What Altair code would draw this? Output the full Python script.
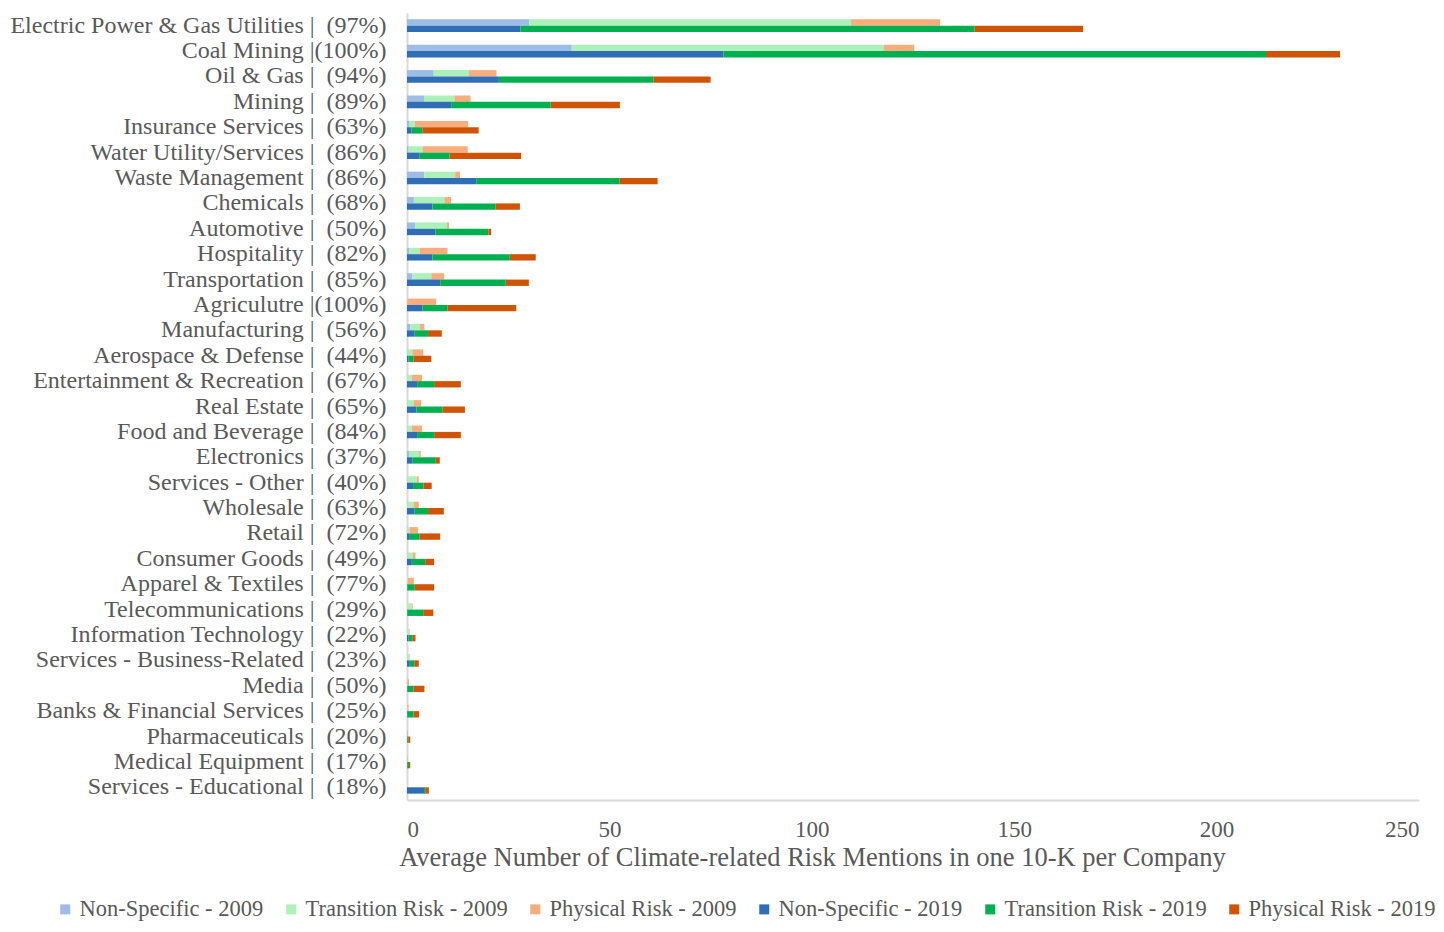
import altair as alt
import pandas as pd

categories = [
    "Electric Power & Gas Utilities", "Coal Mining", "Oil & Gas", "Mining",
    "Insurance Services", "Water Utility/Services", "Waste Management", "Chemicals",
    "Automotive", "Hospitality", "Transportation", "Agriculutre", "Manufacturing",
    "Aerospace & Defense", "Entertainment & Recreation", "Real Estate",
    "Food and Beverage", "Electronics", "Services - Other", "Wholesale", "Retail",
    "Consumer Goods", "Apparel & Textiles", "Telecommunications",
    "Information Technology", "Services - Business-Related", "Media",
    "Banks & Financial Services", "Pharmaceuticals", "Medical Equipment",
    "Services - Educational",
]
pcts = [97, 100, 94, 89, 63, 86, 86, 68, 50, 82, 85, 100, 56, 44, 67, 65, 84, 37,
        40, 63, 72, 49, 77, 29, 22, 23, 50, 25, 20, 17, 18]

ns_2009 = [30.2, 40.7, 6.6, 4.2, 0.5, 0.4, 4.3, 1.7, 2.0, 0.6, 1.3, 0.0, 0.8, 0.1, 0.1, 0.1,
           0.1, 0.5, 0.1, 0.1, 0.1, 0.1, 0.0, 0.0, 0.0, 0.1, 0.0, 0.0, 0.0, 0.0, 0.0]
tr_2009 = [79.5, 77.0, 8.7, 7.5, 1.4, 3.4, 7.6, 7.5, 7.8, 2.5, 4.7, 0.1, 2.4, 1.2, 1.1, 1.5,
           1.1, 2.5, 2.3, 1.5, 0.5, 1.3, 0.2, 1.1, 0.6, 0.5, 0.1, 0.1, 0.0, 0.1, 0.0]
pr_2009 = [22.0, 7.6, 6.8, 4.0, 13.2, 11.2, 1.2, 1.7, 0.6, 6.9, 3.2, 7.1, 1.1, 2.7, 2.5, 1.9,
           2.5, 0.4, 0.5, 1.3, 2.1, 0.7, 1.5, 0.3, 0.1, 0.1, 0.4, 0.3, 0.2, 0.1, 0.0]
ns_2019 = [28.0, 78.2, 22.7, 10.9, 1.1, 3.0, 17.1, 6.3, 7.0, 6.3, 8.2, 3.8, 1.9, 0.4, 2.5, 2.3,
           2.5, 1.3, 1.5, 1.8, 0.7, 1.2, 0.1, 0.1, 0.4, 0.7, 0.1, 0.1, 0.1, 0.1, 4.2]
tr_2019 = [112.2, 134.0, 38.2, 24.6, 2.7, 7.5, 35.4, 15.6, 13.1, 19.1, 16.2, 6.2, 3.3, 1.2, 4.2, 6.5,
           4.2, 5.8, 2.6, 3.4, 2.4, 3.3, 1.8, 3.9, 0.9, 1.1, 1.5, 1.5, 0.2, 0.4, 0.3]
pr_2019 = [26.8, 18.3, 14.1, 17.1, 13.9, 17.7, 9.4, 6.0, 0.7, 6.4, 5.7, 17.0, 3.4, 4.4, 6.6, 5.5,
           6.6, 1.0, 2.0, 3.9, 5.1, 2.2, 4.8, 2.5, 0.8, 1.1, 2.7, 1.4, 0.5, 0.3, 0.9]

series_names = ["Non-Specific - 2009", "Transition Risk - 2009", "Physical Risk - 2009",
                "Non-Specific - 2019", "Transition Risk - 2019", "Physical Risk - 2019"]
series_colors = ["#9dbde6", "#abf1b9", "#f9ad7d", "#2f6db4", "#00b050", "#d05405"]

labels = []
for cat, p in zip(categories, pcts):
    gap = "" if p >= 100 else "\u00a0\u00a0"
    labels.append(f"{cat} |{gap}({p}%)")

rows = []
for i, lab in enumerate(labels):
    for year, arrs in (("2009", (ns_2009, tr_2009, pr_2009)), ("2019", (ns_2019, tr_2019, pr_2019))):
        for k, (tname, arr) in enumerate(zip(["Non-Specific", "Transition Risk", "Physical Risk"], arrs)):
            rows.append({"label": lab, "year": year, "series": f"{tname} - {year}",
                         "order": k, "value": arr[i]})
df = pd.DataFrame(rows)

FONT = "Liberation Serif"
GRAY = "#595959"

chart = alt.Chart(df).mark_bar().encode(
    y=alt.Y("label:N", sort=labels, title=None,
            scale=alt.Scale(paddingInner=0.5, paddingOuter=0.25),
            axis=alt.Axis(labelFont=FONT, labelFontSize=24, labelColor=GRAY, labelLimit=700,
                          labelPadding=21, ticks=False, domainColor="#d9d9d9", domainWidth=2)),
    yOffset=alt.YOffset("year:N", sort=["2009", "2019"],
                        scale=alt.Scale(paddingInner=0, paddingOuter=0)),
    x=alt.X("value:Q", stack="zero",
            scale=alt.Scale(domain=[0, 250], nice=False),
            axis=alt.Axis(values=[0, 50, 100, 150, 200, 250], grid=False, ticks=False,
                          labelFont=FONT, labelFontSize=23, labelColor=GRAY, labelPadding=18,
                          domainColor="#d9d9d9", domainWidth=2,
                          title="Average Number of Climate-related Risk Mentions in one 10-K per Company",
                          titleFont=FONT, titleFontSize=26.5, titleFontWeight="normal", titleColor=GRAY,
                          titleX=405, titlePadding=3)),
    color=alt.Color("series:N", sort=series_names,
                    scale=alt.Scale(domain=series_names, range=series_colors),
                    legend=alt.Legend(title=None, orient="none", legendX=-353, legendY=885,
                                      direction="horizontal",
                                      symbolType="square", symbolSize=100,
                                      symbolStrokeWidth=0, labelFont=FONT, labelFontSize=22.5,
                                      labelColor=GRAY, labelLimit=400, columnPadding=16,
                                      labelOffset=3)),
    order=alt.Order("order:Q"),
).properties(
    width=1012, height=787,
    autosize=alt.AutoSizeParams(type="none"),
    padding={"left": 399, "top": 5, "right": 17, "bottom": 124},
).configure_view(stroke=None)

chart.save("out.html", embed_options={"renderer": "svg", "actions": False})
